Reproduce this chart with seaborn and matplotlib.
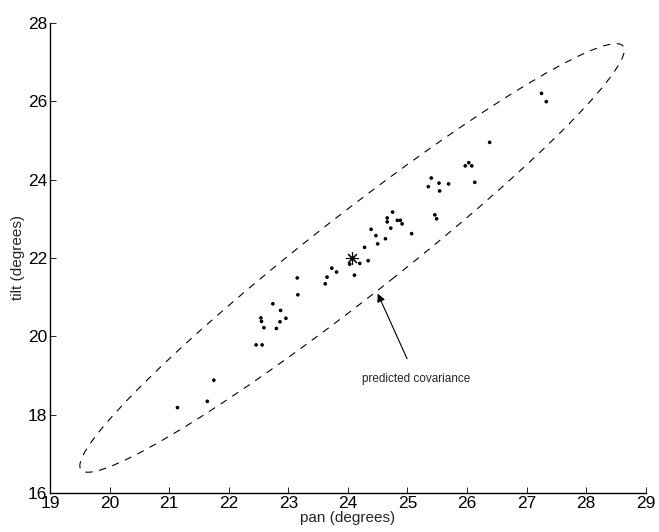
import numpy as np
import pandas as pd
import matplotlib
matplotlib.use("Agg")
import matplotlib.pyplot as plt
from matplotlib.patches import Ellipse
import seaborn as sns

# ---- data ----
pan = [21.14, 21.64, 21.75, 22.46, 22.56, 22.59, 22.80, 22.54, 22.55, 22.86,
       22.96, 22.87, 22.74, 23.16, 23.15, 23.62, 23.65, 23.81, 23.73, 24.11,
       24.03, 24.20, 24.34, 24.28, 24.39, 24.47, 24.50, 24.63, 24.72, 24.66,
       24.66, 24.75, 24.83, 24.88, 24.91, 25.07, 25.46, 25.49, 25.35, 25.40,
       25.53, 25.69, 25.54, 25.97, 26.03, 26.08, 26.13, 26.38, 27.25, 27.33]
tilt = [18.18, 18.34, 18.88, 19.78, 19.78, 20.22, 20.20, 20.47, 20.38, 20.37,
        20.46, 20.66, 20.83, 21.06, 21.49, 21.34, 21.51, 21.64, 21.74, 21.56,
        21.84, 21.86, 21.93, 22.27, 22.73, 22.57, 22.36, 22.49, 22.76, 22.92,
        23.02, 23.17, 22.96, 22.96, 22.87, 22.62, 23.10, 23.00, 23.82, 24.04,
        23.91, 23.89, 23.71, 24.35, 24.43, 24.35, 23.93, 24.95, 26.20, 25.99]

mean_pan, mean_tilt = 24.07, 22.00
cov = [[5.22, 6.06],
       [6.06, 7.48]]
n_std = 2.0

xticks = list(range(19, 30))
yticks = list(range(16, 29, 2))
annot_text = "predicted covariance"

df = pd.DataFrame({"pan": pan, "tilt": tilt})

sns.set_style("ticks")
plt.rcParams["font.family"] = ["Liberation Sans", "DejaVu Sans"]

fig = plt.figure(figsize=(6.59, 5.32), dpi=100)
ax = fig.add_axes([0.0759, 0.0733, 0.904, 0.8837])

sns.scatterplot(data=df, x="pan", y="tilt", ax=ax, color="black",
                s=7, marker="o", edgecolor="none", linewidth=0, legend=False)
ax.plot([mean_pan], [mean_tilt], marker=(8, 2, 0), color="black",
        markersize=9, markeredgewidth=0.8, linestyle="none")

# covariance ellipse
C = np.array(cov)
vals, vecs = np.linalg.eigh(C)
order = vals.argsort()[::-1]
vals, vecs = vals[order], vecs[:, order]
angle = np.degrees(np.arctan2(vecs[1, 0], vecs[0, 0]))
w, h = 2 * n_std * np.sqrt(vals)
ell = Ellipse((mean_pan, mean_tilt), w, h, angle=angle, fill=False,
              edgecolor="black", linewidth=0.8, linestyle=(0, (6.5, 6)))
ax.add_patch(ell)

ax.annotate(annot_text, xy=(24.50, 21.09), xytext=(25.15, 18.9),
            ha="center", va="center", fontsize=8.5,
            arrowprops=dict(arrowstyle="-|>", color="black", lw=0.8,
                            shrinkA=9, shrinkB=0, mutation_scale=12))

ax.set_xlim(19, 29)
ax.set_ylim(16, 28)
ax.set_xticks(xticks)
ax.set_yticks(yticks)
ax.tick_params(direction="in", length=4, width=0.6, labelsize=12.5,
               pad=2, colors="black")
ax.set_xlabel("pan (degrees)", fontsize=11, labelpad=0)
ax.set_ylabel("tilt (degrees)", fontsize=11, labelpad=2)
sns.despine(ax=ax)
for s in ["left", "bottom"]:
    ax.spines[s].set_linewidth(1.0)
    ax.spines[s].set_color("black")

fig.savefig("out.png", dpi=100)
